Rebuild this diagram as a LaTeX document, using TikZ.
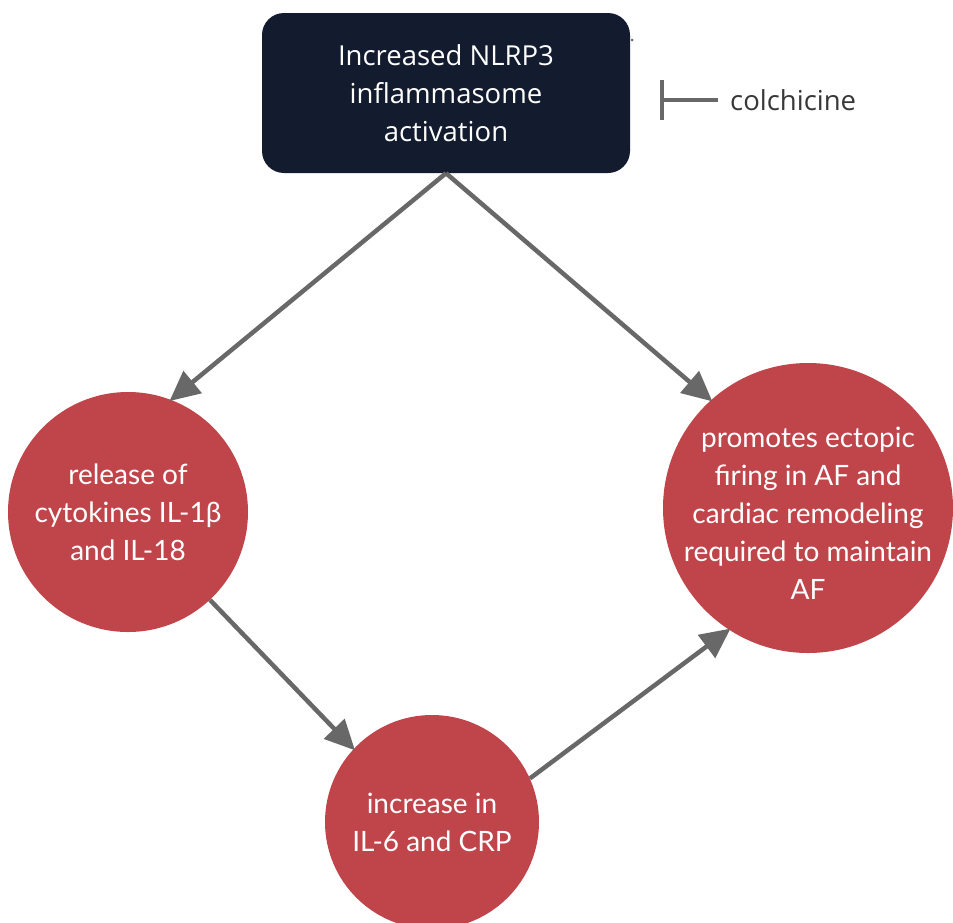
\documentclass[tikz,border=0pt]{standalone}
\usepackage{fontspec}
\setmainfont{Lato}
\newfontfamily\opensans{Open Sans}
\usetikzlibrary{arrows.meta}
\definecolor{navy}{HTML}{131B2E}
\definecolor{redc}{HTML}{C0454A}
\definecolor{arrg}{HTML}{686868}
\begin{document}
\begin{tikzpicture}[x=1pt,y=-1pt,
  txt/.style={text=white,align=center,font=\fontsize{28}{38}\selectfont,inner sep=0pt},
  toptxtstyle/.style={text=white,align=center,font=\opensans\fontsize{27.5}{38}\selectfont,inner sep=0pt},
  topbox/.style={fill=navy,rounded corners=22pt,minimum width=368pt,minimum height=160pt,inner sep=0pt},
  redcirc/.style={circle,fill=redc,inner sep=0pt},
  conn/.style={draw=arrg,line width=4.5pt,-{Triangle[length=30pt,width=28pt]},shorten >=-2pt}]
\useasboundingbox (0,0) rectangle (953,922);
\begin{scope}
\clip (0,0) rectangle (953,922);
\node[topbox] (top) at (446,93) {};
\node[toptxtstyle] (toptxt) at (top.center) {Increased NLRP3\\inflammasome\\activation};
\node[redcirc,minimum size=240pt] (L) at (128,512) {};
\node[txt] (Ltxt) at (L.center) {release of\\cytokines IL-1β\\and IL-18};
\node[redcirc,minimum size=290pt] (R) at (808,508) {};
\node[txt] (Rtxt) at ([yshift=-5pt]R.center) {promotes ectopic\\firing in AF and\\cardiac remodeling\\required to maintain\\AF};
\node[redcirc,minimum size=214pt] (B) at (432,822) {};
\node[txt] (Btxt) at (B.center) {increase in\\IL-6 and CRP};
\end{scope}
\node[anchor=west,inner sep=0pt,font=\opensans\fontsize{27.5}{38}\selectfont,text=black!78] (col) at (730,100) {colchicine};
\coordinate (inh) at (660,100);
\draw[draw=arrg,line width=3.5pt,-{Bar[width=40pt]}] (col.west) ++(-12pt,0) -- (inh);
\fill[arrg] (632,40) circle (1.5pt);
\draw[conn] (top.south) -- (L.69);
\draw[conn] (top.south) -- (R.132);
\draw[conn] (L.-47) -- (B.137);
\draw[conn] (B.24) -- (R.237);
\end{tikzpicture}
\end{document}
